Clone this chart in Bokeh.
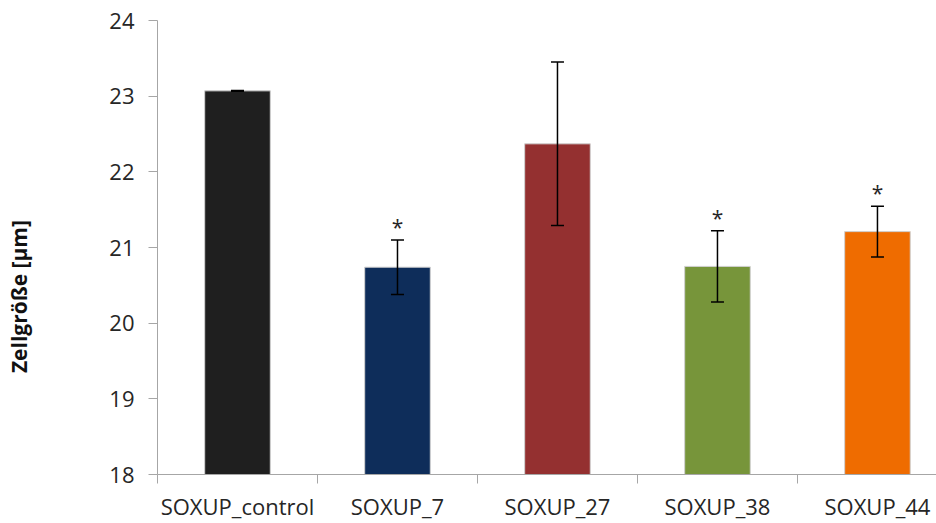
from bokeh.plotting import figure
from bokeh.models import ColumnDataSource, Whisker, FixedTicker, Range1d
from bokeh.core.properties import value
from bokeh.embed import file_html
from bokeh.resources import INLINE

categories = ["SOXUP_control", "SOXUP_7", "SOXUP_27", "SOXUP_38", "SOXUP_44"]
means = [23.07, 20.74, 22.37, 20.75, 21.21]
errors = [0.005, 0.36, 1.08, 0.47, 0.335]
significant = [False, True, False, True, True]
colors = ["#1f1f1f", "#0e2d5a", "#943030", "#77953a", "#ef6c00"]
y_ticks = [18, 19, 20, 21, 22, 23, 24]
y_title = "Zellgröße [µm]"

xs = list(range(len(categories)))
src = ColumnDataSource(dict(
    x=xs, top=means, color=colors,
    upper=[m + e for m, e in zip(means, errors)],
    lower=[m - e for m, e in zip(means, errors)],
))
star_x = [x for x, s in zip(xs, significant) if s]
star_y = [m + e for m, e, s in zip(means, errors, significant) if s]
star_src = ColumnDataSource(dict(x=star_x, y=star_y, t=["*"] * len(star_x)))

font = "Open Sans"
txt = "#262626"

p = figure(width=936, height=523, output_backend="svg", toolbar_location=None,
           x_range=Range1d(-0.5, 4.369), y_range=Range1d(18, 24),
           min_border_left=157, min_border_top=20, min_border_bottom=45, min_border_right=0)
p.outline_line_color = None
p.xgrid.grid_line_color = None
p.ygrid.grid_line_color = None

p.vbar(x="x", top="top", bottom=18, width=0.41, color="color", line_color="#d0d0d0",
       line_width=1, source=src)

w = Whisker(base="x", upper="upper", lower="lower", source=src,
            line_color="black", line_width=1.5, level="overlay")
w.upper_head.size = 13
w.lower_head.size = 13
w.upper_head.line_width = 1.5
w.lower_head.line_width = 1.5
p.add_layout(w)

p.text(x="x", y="y", text="t", source=star_src, text_align="center",
       text_baseline="alphabetic", y_offset=-13, text_font=value(font),
       text_font_size="21px", text_color=txt)

# y axis
p.yaxis.ticker = FixedTicker(ticks=y_ticks)
p.yaxis.axis_line_color = "#a6a6a6"
p.yaxis.major_tick_line_color = "#a6a6a6"
p.yaxis.major_tick_out = 9
p.yaxis.major_tick_in = 0
p.yaxis.minor_tick_line_color = None
p.yaxis.major_label_text_font = font
p.yaxis.major_label_text_font_size = "22px"
p.yaxis.major_label_text_color = txt
p.yaxis.major_label_standoff = 14
# trailing no-break spaces move the centred title down to where the reference has it
p.yaxis.axis_label = y_title + "\u00a0" * 18
p.yaxis.axis_label_text_font = font
p.yaxis.axis_label_text_font_style = "bold"
p.yaxis.axis_label_text_font_size = "21px"
p.yaxis.axis_label_text_color = "#111111"
p.yaxis.axis_label_standoff = 73

# x axis
p.xaxis.ticker = FixedTicker(ticks=xs, minor_ticks=[-0.5, 0.5, 1.5, 2.5, 3.5, 4.5])
p.xaxis.major_label_overrides = {i: c for i, c in enumerate(categories)}
p.xaxis.axis_line_color = "#a6a6a6"
p.xaxis.major_tick_line_color = None
p.xaxis.major_tick_out = 0
p.xaxis.major_tick_in = 0
p.xaxis.minor_tick_line_color = "#a6a6a6"
p.xaxis.minor_tick_out = 9
p.xaxis.minor_tick_in = 0
p.xaxis.major_label_text_font = font
p.xaxis.major_label_text_font_size = "22px"
p.xaxis.major_label_text_color = txt
p.xaxis.major_label_standoff = 7

open("out.html", "w").write(file_html(p, INLINE))
